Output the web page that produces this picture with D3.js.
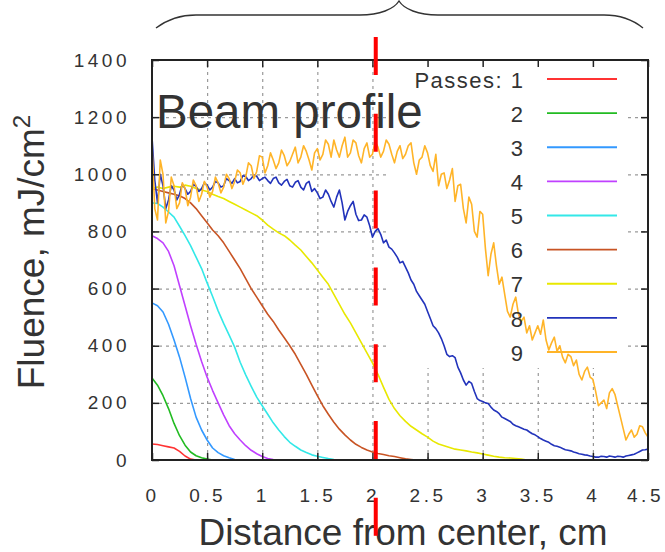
<!DOCTYPE html>
<html><head><meta charset="utf-8">
<script src="https://cdn.jsdelivr.net/npm/d3@7"></script>
<style>
html,body{margin:0;padding:0;background:#fff;}
svg{display:block;}
</style></head>
<body>
<svg id="chart" width="665" height="552"></svg>
<script>
// ---------- data ----------
// sample spacing (cm) of each series, all series start at 0 cm
const seriesStep = [0.05,0.05,0.05,0.05,0.05,0.05,0.05,0.025,0.025];
const xTicks = [0,0.5,1,1.5,2,2.5,3,3.5,4,4.5];
const xTickLabels = ["0","0.5","1","1.5","2","2.5","3","3.5","4","4.5"];
const yTicks = [0,200,400,600,800,1000,1200,1400];
const yTickLabels = ["0","200","400","600","800","1000","1200","1400"];
const legendLabels = ["Passes: 1","2","3","4","5","6","7","8","9"];
const seriesColors = ["#ff3333","#22bb22","#3399ff","#c040ff","#33e8e8","#c85424","#e8e800","#2233bb","#ffb428"];
const markerX = 2.03;

const pass1 = [56,54,50,46,42,30,14,3,0];
const pass2 = [287,262,225,180,128,85,52,28,15,8,3,0];
const pass3 = [550,540,518,475,420,360,290,215,150,105,70,42,26,15,8,2,0];
const pass4 = [785,775,760,730,680,610,540,470,405,345,290,243,200,158,120,92,70,50,34,22,12,5,2,0,0];
const pass5 = [900,898,885,868,850,818,785,750,710,670,620,572,522,478,437,395,342,298,258,220,190,160,130,105,82,62,48,35,26,18,13,9,5,2,0,0,0];
const pass6 = [950,945,940,935,930,925,915,900,880,855,830,805,785,760,730,700,670,635,600,570,540,510,485,455,428,400,370,335,300,262,225,190,160,132,108,88,70,55,44,35,28,23,19,15,12,8,4,2,0,0,0,0];
const pass7 = [950,955,950,955,958,955,962,958,950,945,940,930,922,915,905,895,885,875,865,855,840,822,808,795,785,770,752,735,712,690,665,640,615,580,545,510,480,445,410,375,340,300,255,212,180,155,135,118,105,92,80,66,56,50,44,38,35,32,28,25,21,17,13,10,8,7,5,3,0,0,null,null,null,null,null,null,0,0,0,0,0,0,0,0,0,0,0,0,0,0];
const pass8 = [1130,980,900,1000,960,880,910,960,945,910,930,965,950,930,940,965,958,940,950,970,962,945,955,975,970,955,960,985,978,968,985,970,975,995,992,978,985,998,993,978,
  985,990,978,968,985,990,970,962,975,982,960,955,972,978,955,945,968,975,940,950,935,915,920,945,930,905,885,920,945,900,840,870,890,905,860,838,840,858,850,820,
  780,800,810,790,760,770,745,738,725,710,690,695,675,655,630,615,590,575,560,545,520,495,470,460,445,425,400,370,362,365,358,325,305,280,262,275,268,240,215,208,
  205,200,198,185,175,170,162,150,145,140,135,125,120,116,112,108,105,98,92,88,82,75,70,66,62,55,50,48,45,40,36,34,32,28,25,22,20,18,17,14,
  12,10,10,13,12,10,14,12,10,13,12,10,14,16,18,20,25,30,35,36,38];
const pass9 = [1100,880,840,1050,1000,830,870,990,960,880,900,970,950,890,920,980,960,905,930,975,955,920,940,990,970,935,955,1000,985,950,975,1015,1005,965,990,1040,1030,985,1010,1065,
  1060,1005,1030,1075,1050,1020,1040,1085,1065,1030,1045,1070,1095,1040,1060,1100,1080,1050,1015,1075,1090,1050,1070,1120,1105,1060,1120,1085,1060,1100,1130,1060,1075,1120,1110,1065,1040,1090,1110,1060,
  1070,1115,1095,1060,1080,1120,1105,1070,1040,1080,1100,1055,1070,1100,1110,1040,1000,1050,1060,1100,1075,1030,1010,1070,960,1000,1005,950,980,1020,905,960,965,880,830,920,895,800,780,870,
  860,740,645,720,760,680,615,640,580,520,500,545,570,510,485,500,445,470,420,445,470,440,490,420,385,410,430,380,400,360,340,370,362,330,350,300,280,310,325,290,
  282,240,190,200,210,180,235,250,230,190,150,110,70,90,105,80,90,120,116,95,80];
const passes = [pass1,pass2,pass3,pass4,pass5,pass6,pass7,pass8,pass9];

// ---------- layout ----------
const svg = d3.select("#chart");
const L = 152, R = 648, T = 60, B = 460;
const x = d3.scaleLinear().domain([0,4.5]).range([L,R]);
const y = d3.scaleLinear().domain([0,1400]).range([B,T]);
const FONT = "'Liberation Sans', Arial, sans-serif";
const TXT = "#333";

// top brace
svg.append("path")
  .attr("d","M156,28 C168,19 180,15 196,15 L360,15 C380,15 394,9 399,1 C404,9 418,15 438,15 L604,15 C620,15 632,19 643,28")
  .attr("fill","none").attr("stroke","#333").attr("stroke-width",1.4);

// grid
const gridStyle = g => g.selectAll("line").attr("stroke","#9a9a9a").attr("stroke-width",1.2).attr("stroke-dasharray","3,4");
svg.append("g").attr("transform",`translate(0,${B})`)
  .call(d3.axisBottom(x).tickValues(xTicks.slice(1,-1)).tickSize(-(B-T)).tickFormat(""))
  .call(g=>g.select(".domain").remove()).call(gridStyle);
svg.append("g").attr("transform",`translate(${L},0)`)
  .call(d3.axisLeft(y).tickValues(yTicks.slice(1,-1)).tickSize(-(R-L)).tickFormat(""))
  .call(g=>g.select(".domain").remove()).call(gridStyle);

// legend background (opaque box hides grid)
svg.append("rect").attr("x",388).attr("y",T+1).attr("width",240).attr("height",307).attr("fill","#fff");

// curves
passes.forEach((vals,k)=>{
  const pts = vals.map((v,i)=>[i*seriesStep[k], v]);
  const line = d3.line().defined(d=>d[1]!==null).x(d=>x(d[0])).y(d=>y(d[1]));
  svg.append("path").attr("d", line(pts)).attr("fill","none")
    .attr("stroke", seriesColors[k]).attr("stroke-width",1.6).attr("stroke-linejoin","round");
});

// frame
svg.append("rect").attr("x",L).attr("y",T).attr("width",R-L).attr("height",B-T)
  .attr("fill","none").attr("stroke","#222").attr("stroke-width",2);

// axes (ticks pointing inward)
const tickStyle = g => { g.select(".domain").remove(); g.selectAll("line").attr("stroke","#222").attr("stroke-width",1.5); };
const gx = svg.append("g").attr("transform",`translate(0,${B})`)
  .call(d3.axisBottom(x).tickValues(xTicks).tickSize(-7).tickPadding(29).tickFormat((d,i)=>xTickLabels[i]))
  .call(tickStyle);
gx.selectAll("text").attr("font-family",FONT).attr("font-size",19).attr("fill",TXT)
  .attr("letter-spacing","3.5px")
  .attr("dx",(d,i)=> i===xTicks.length-1 ? "-3px" : "0px");
const gy = svg.append("g").attr("transform",`translate(${L},0)`)
  .call(d3.axisLeft(y).tickValues(yTicks).tickSize(-7).tickPadding(22).tickFormat((d,i)=>yTickLabels[i]))
  .call(tickStyle);
gy.selectAll("text").attr("font-family",FONT).attr("font-size",19).attr("fill",TXT).attr("letter-spacing","3.5px");
svg.append("g").attr("transform",`translate(${R},0)`)
  .call(d3.axisRight(y).tickValues(yTicks).tickSize(-7).tickFormat("")).call(tickStyle);
svg.append("g").attr("transform",`translate(0,${T})`)
  .call(d3.axisTop(x).tickValues(xTicks).tickSize(-7).tickFormat("")).call(tickStyle);

// legend
const legY = d3.scaleLinear().domain([0,8]).range([80,353]);
legendLabels.forEach((lab,k)=>{
  svg.append("text").attr("x",524.5).attr("y",legY(k)).attr("dy","0.35em")
    .attr("text-anchor","end").attr("font-family",FONT).attr("font-size",22)
    .attr("letter-spacing","1.5px").attr("fill",TXT).text(lab);
  svg.append("line").attr("x1",547).attr("x2",617).attr("y1",legY(k)-1).attr("y2",legY(k)-1)
    .attr("stroke",seriesColors[k]).attr("stroke-width",1.8);
});

// "Beam profile" label
svg.append("text").attr("x",156).attr("y",128).attr("font-family",FONT).attr("font-size",47.5)
  .attr("fill",TXT).text("Beam profile");

// axis titles
svg.append("text").attr("x",(L+R)/2+3).attr("y",545).attr("text-anchor","middle")
  .attr("font-family",FONT).attr("font-size",37).attr("fill",TXT).text("Distance from center, cm");
const yt = svg.append("text").attr("transform","translate(44,252) rotate(-90)").attr("text-anchor","middle")
  .attr("font-family",FONT).attr("font-size",37).attr("fill",TXT);
yt.append("tspan").text("Fluence, mJ/cm");
yt.append("tspan").attr("font-size",24).attr("dy",-14).text("2");

// red dashed marker
svg.append("line").attr("x1",x(markerX)).attr("x2",x(markerX)).attr("y1",37).attr("y2",537)
  .attr("stroke","#ff0000").attr("stroke-width",4).attr("stroke-dasharray","38,38.8");
</script>
</body></html>
